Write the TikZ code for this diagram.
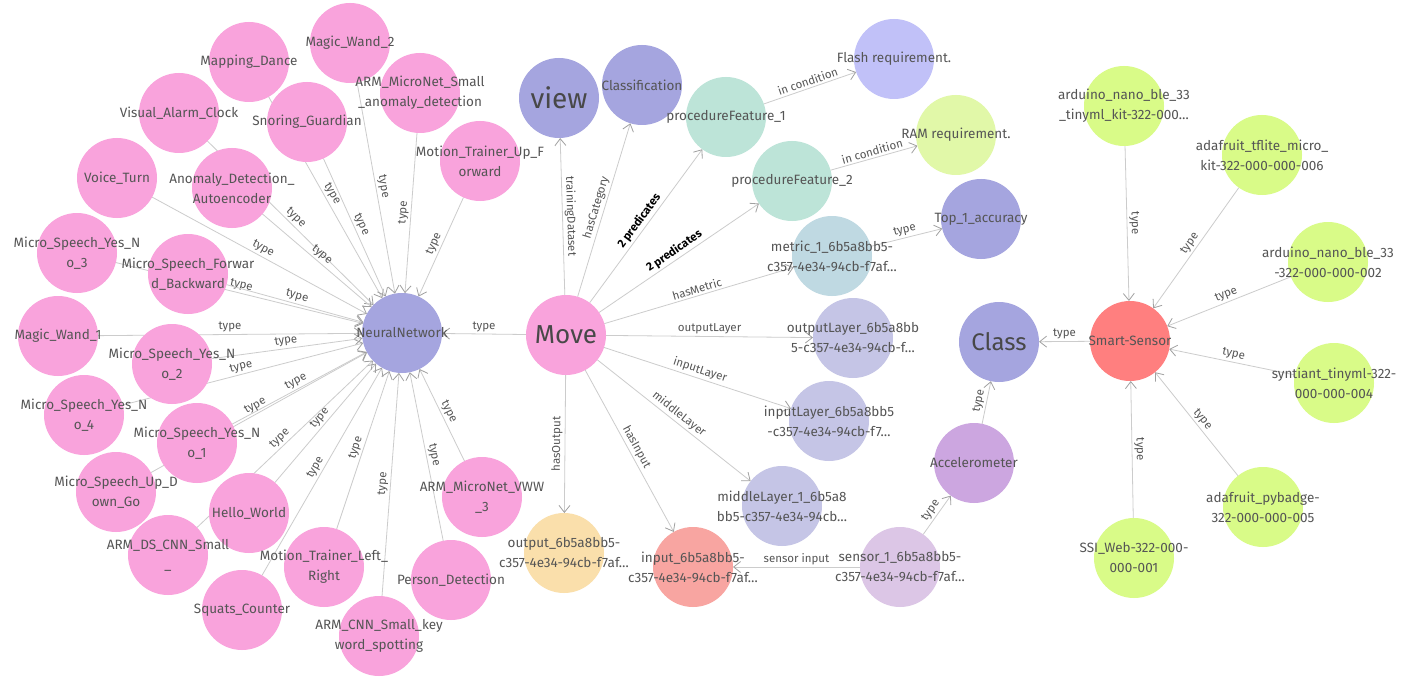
\documentclass[tikz,border=0pt]{standalone}
\usepackage{fontspec}
\setmainfont{Fira Sans}
\usetikzlibrary{arrows.meta}
\pgfdeclarelayer{bg}\pgfdeclarelayer{fg}\pgfsetlayers{bg,main,fg}
\definecolor{pk}{RGB}{249,163,220}
\definecolor{lav}{RGB}{165,165,223}
\definecolor{flash}{RGB}{193,193,248}
\definecolor{ram}{RGB}{225,248,168}
\definecolor{pf}{RGB}{189,228,216}
\definecolor{met}{RGB}{191,217,226}
\definecolor{lay}{RGB}{197,197,230}
\definecolor{acc}{RGB}{204,166,224}
\definecolor{sens}{RGB}{220,198,230}
\definecolor{inp}{RGB}{248,165,161}
\definecolor{outp}{RGB}{250,223,171}
\definecolor{smart}{RGB}{255,127,127}
\definecolor{dev}{RGB}{217,251,136}
\definecolor{txtc}{RGB}{85,85,85}
\definecolor{edgec}{RGB}{204,204,204}
\definecolor{arrc}{RGB}{160,160,160}
\definecolor{elabc}{RGB}{85,85,85}
\tikzset{
 circ/.style={circle, minimum size=80pt, inner sep=0pt, outer sep=0pt, draw=none},
 ntxt/.style={align=center, text=txtc, font=\fontsize{13.5}{20}\selectfont, inner sep=0pt},
 bigtxt/.style={align=center, text=txtc!85!black, font=\fontsize{26}{28}\selectfont, inner sep=0pt},
 edge/.style={draw=edgec, line width=0.8pt, -{Straight Barb[length=7pt,width=11pt,line width=0.8pt,color=arrc]}},
 elab/.style={sloped, above, font=\fontsize{11.5}{13}\selectfont, text=elabc, inner sep=2pt},
 blab/.style={sloped, above, font=\fontsize{11.5}{13}\selectfont\bfseries, text=black, inner sep=2pt},
}
\newcommand\gn[5][ntxt]{%
 \node[circ, fill=#4] (#2) at (#3) {};
 \begin{pgfonlayer}{fg}\node[#1] (#2-t) at (#2) {#5};\end{pgfonlayer}}
\begin{document}
\begin{tikzpicture}[x=1pt,y=-1pt]
\begin{pgfonlayer}{bg}
\fill[white] (0,0) rectangle (1406,682);
\end{pgfonlayer}
\useasboundingbox (0,0) rectangle (1406,682);
% pink nodes
\gn{md}{249,62}{pk}{Mapping\_Dance}
\gn{mw2}{350,43}{pk}{Magic\_Wand\_2}
\gn{vac}{179,113}{pk}{Visual\_Alarm\_Clock}
\gn{sg}{307,122}{pk}{Snoring\_Guardian}
\gn{vt}{117,178}{pk}{Voice\_Turn}
\gn{ad}{232,188}{pk}{Anomaly\_Detection\_\\Autoencoder}
\gn{ams}{420,93}{pk}{ARM\_MicroNet\_Small\\\_anomaly\_detection}
\gn{mtu}{480,161}{pk}{Motion\_Trainer\_Up\_F\\orward}
\gn{ms3}{77,253}{pk}{Micro\_Speech\_Yes\_N\\o\_3}
\gn{msf}{188,274}{pk}{Micro\_Speech\_Forwar\\d\_Backward}
\gn{mw1}{58,336}{pk}{Magic\_Wand\_1}
\gn{ms2}{172,364}{pk}{Micro\_Speech\_Yes\_N\\o\_2}
\gn{ms4}{84,415}{pk}{Micro\_Speech\_Yes\_N\\o\_4}
\gn{ms1}{197,443}{pk}{Micro\_Speech\_Yes\_N\\o\_1}
\gn{msu}{116,492}{pk}{Micro\_Speech\_Up\_D\\own\_Go}
\gn{hw}{249,513}{pk}{Hello\_World}
\gn{ads}{168,555}{pk}{ARM\_DS\_CNN\_Small\\\_}
\gn{sc}{242,610}{pk}{Squats\_Counter}
\gn{mtl}{324,567}{pk}{Motion\_Trainer\_Left\_\\Right}
\gn{acnn}{379,636}{pk}{ARM\_CNN\_Small\_key\\word\_spotting}
\gn{pd}{451,580}{pk}{Person\_Detection}
\gn{vww}{482,497}{pk}{ARM\_MicroNet\_VWW\\\_3}
\gn[bigtxt]{move}{566,335}{pk}{Move}
% lavender
\gn{nn}{402,333}{lav}{NeuralNetwork}
\gn[bigtxt, font=\fontsize{28}{30}\selectfont]{view}{559,98}{lav}{view}
\gn{cls}{642,85}{lav}{Classification}
\gn{top}{981,219}{lav}{Top\_1\_accuracy}
\gn[bigtxt, font=\fontsize{24}{26}\selectfont]{class}{999,342}{lav}{Class}
% others
\gn{pf1}{726,117}{pf}{procedureFeature\_1}
\gn{pf2}{792,181}{pf}{procedureFeature\_2}
\gn{flash}{894,59}{flash}{Flash requirement.}
\gn{ram}{956,135}{ram}{RAM requirement.}
\gn{met}{832,256}{met}{metric\_1\_6b5a8bb5-\\c357-4e34-94cb-f7af…}
\gn{ol}{853,338}{lay}{outputLayer\_6b5a8bb\\5-c357-4e34-94cb-f…}
\gn{il}{829,421}{lay}{inputLayer\_6b5a8bb5\\-c357-4e34-94cb-f7…}
\gn{ml}{782,506}{lay}{middleLayer\_1\_6b5a8\\bb5-c357-4e34-94cb…}
\gn{acc}{974,463}{acc}{Accelerometer}
\gn{sen}{900,567}{sens}{sensor\_1\_6b5a8bb5-\\c357-4e34-94cb-f7af…}
\gn{inp}{693,567}{inp}{input\_6b5a8bb5-\\c357-4e34-94cb-f7af…}
\gn{outp}{564,553}{outp}{output\_6b5a8bb5-\\c357-4e34-94cb-f7af…}
\gn{ss}{1130,341}{smart}{Smart-Sensor}
\gn{d1}{1124,106}{dev}{arduino\_nano\_ble\_33\\\_tinyml\_kit-322-000…}
\gn{d6}{1262,155}{dev}{adafruit\_tflite\_micro\_\\kit-322-000-000-006}
\gn{d2}{1328,262}{dev}{arduino\_nano\_ble\_33\\-322-000-000-002}
\gn{d4}{1334,383}{dev}{syntiant\_tinyml-322-\\000-000-004}
\gn{d5}{1263,507}{dev}{adafruit\_pybadge-\\322-000-000-005}
\gn{d0}{1134,558}{dev}{SSI\_Web-322-000-\\000-001}
\begin{pgfonlayer}{bg}
\foreach \s in {md,mw2,vac,sg,vt,ad,ams,mtu,ms3,msf,mw1,ms2,ms4,ms1,msu,hw,ads,sc,mtl,acnn,pd,vww,move}
  \draw[edge] (\s) -- node[elab]{type} (nn);
\draw[edge] (move) -- node[elab]{trainingDataset} (view);
\draw[edge] (move) -- node[elab]{hasCategory} (cls);
\draw[edge] (move) -- node[blab]{2 predicates} (pf1);
\draw[edge] (move) -- node[blab]{2 predicates} (pf2);
\draw[edge] (move) -- node[elab]{hasMetric} (met);
\draw[edge] (move) -- node[elab]{outputLayer} (ol);
\draw[edge] (move) -- node[elab]{inputLayer} (il);
\draw[edge] (move) -- node[elab]{middleLayer} (ml);
\draw[edge] (move) -- node[elab]{hasInput} (inp);
\draw[edge] (move) -- node[elab]{hasOutput} (outp);
\draw[edge] (pf1) -- node[elab]{in condition} (flash);
\draw[edge] (pf2) -- node[elab]{in condition} (ram);
\draw[edge] (met) -- node[elab]{type} (top);
\draw[edge] (sen) -- node[elab]{sensor input} (inp);
\draw[edge] (sen) -- node[elab]{type} (acc);
\draw[edge] (acc) -- node[elab]{type} (class);
\draw[edge] (ss) -- node[elab]{type} (class);
\foreach \d in {d1,d6,d2,d4,d5,d0}
  \draw[edge] (\d) -- node[elab]{type} (ss);
\end{pgfonlayer}
\end{tikzpicture}
\end{document}
